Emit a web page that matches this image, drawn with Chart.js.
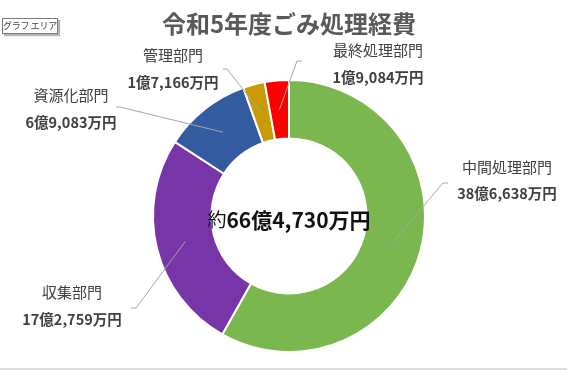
<!DOCTYPE html>
<html><head><meta charset="utf-8">
<script src="https://cdn.jsdelivr.net/npm/chart.js@4/dist/chart.umd.min.js"></script>
<style>
html,body{margin:0;padding:0;background:#fff;}
#wrap{position:relative;width:567px;height:370px;overflow:hidden;background:#fff;}
canvas{position:absolute;left:0;top:0;}
#tip{position:absolute;left:2px;top:18px;width:54px;height:14px;border:1px solid #7a7a7a;background:#fff;box-shadow:2px 2px 1px #b4b4b4;font:9px "Noto Sans CJK JP";letter-spacing:-0.3px;color:#444;line-height:14px;text-align:center;white-space:nowrap;overflow:hidden;}
#bottom{position:absolute;left:0;top:368px;width:567px;height:2px;background:#dcdcdc;}
</style>
</head><body>
<div id="wrap">
<canvas id="c" width="567" height="370"></canvas>
<div id="tip">グラフ エリア</div>
<div id="bottom"></div>
</div>
<script>
// values in 万円
const categories = ['中間処理部門', '収集部門', '資源化部門', '管理部門', '最終処理部門'];
const values = [386638, 172759, 69083, 17166, 19084];
const colors = ['#7AB84F', '#7835A8', '#335CA0', '#C99B06', '#FF0000'];
const titleText = '令和5年度ごみ処理経費';

function fmt(v) {
  const oku = Math.floor(v / 10000);
  const man = v % 10000;
  return oku + '億' + man.toLocaleString('en-US') + '万円';
}

// label placement (layout only): center x, name y, value y, leader tick points
const labelLayout = [
  {cx: 507, ny: 167, vy: 193, tick: [[448,183],[443,183]]},
  {cx: 72,  ny: 292, vy: 319, tick: [[131,308],[136,308]]},
  {cx: 71,  ny: 95,  vy: 122, tick: [[116,107],[120,107]]},
  {cx: 173, ny: 55,  vy: 82,  tick: [[223,69],[227,69]]},
  {cx: 378, ny: 50,  vy: 77,  tick: [[302,61],[297,61]]}
];

const FF = '"Noto Sans CJK JP", "Noto Sans", sans-serif';

const labelPlugin = {
  id: 'labels',
  afterDraw(chart) {
    const ctx = chart.ctx;
    const meta = chart.getDatasetMeta(0);
    ctx.save();
    meta.data.forEach((arc, i) => {
      const p = arc.getProps(['x','y','startAngle','endAngle','innerRadius','outerRadius'], true);
      const mid = (p.startAngle + p.endAngle) / 2;
      const r = (p.innerRadius + p.outerRadius) / 2;
      const ix = p.x + Math.cos(mid) * r, iy = p.y + Math.sin(mid) * r;
      const L = labelLayout[i];
      ctx.strokeStyle = '#A6A6A6';
      ctx.lineWidth = 1;
      ctx.beginPath();
      ctx.moveTo(L.tick[0][0], L.tick[0][1]);
      ctx.lineTo(L.tick[1][0], L.tick[1][1]);
      ctx.lineTo(ix, iy);
      ctx.stroke();
      ctx.textAlign = 'center';
      ctx.textBaseline = 'middle';
      ctx.fillStyle = '#404040';
      ctx.font = '15px ' + FF;
      ctx.fillText(categories[i], L.cx, L.ny);
      ctx.font = 'bold 14.5px ' + FF;
      ctx.fillText(fmt(values[i]), L.cx, L.vy);
    });
    // center total
    const total = values.reduce((a, b) => a + b, 0);
    const a0 = meta.data[0];
    const cx = a0.x, cy = a0.y + 4;
    const s1 = '約', s2 = fmt(total);
    ctx.textBaseline = 'middle';
    ctx.textAlign = 'left';
    ctx.font = '19px ' + FF;
    const w1 = ctx.measureText(s1).width;
    ctx.font = 'bold 21px ' + FF;
    const w2 = ctx.measureText(s2).width;
    const x0 = cx - (w1 + w2) / 2;
    ctx.fillStyle = '#111';
    ctx.font = '19px ' + FF;
    ctx.fillText(s1, x0, cy);
    ctx.font = 'bold 21px ' + FF;
    ctx.fillText(s2, x0 + w1, cy);
    ctx.restore();
  }
};

new Chart(document.getElementById('c'), {
  type: 'doughnut',
  data: {
    labels: categories,
    datasets: [{
      data: values,
      backgroundColor: colors,
      borderColor: '#ffffff',
      borderWidth: 2
    }]
  },
  options: {
    responsive: false,
    animation: false,
    cutout: '57%',
    layout: {padding: {left: 152, right: 141, top: 0, bottom: 17}},
    plugins: {
      legend: {display: false},
      tooltip: {enabled: false},
      title: {
        display: true,
        text: titleText,
        color: '#595959',
        font: {size: 24, weight: 'bold', family: FF},
        padding: {top: 9, bottom: 41}
      }
    }
  },
  plugins: [labelPlugin]
});
</script>
</body></html>
